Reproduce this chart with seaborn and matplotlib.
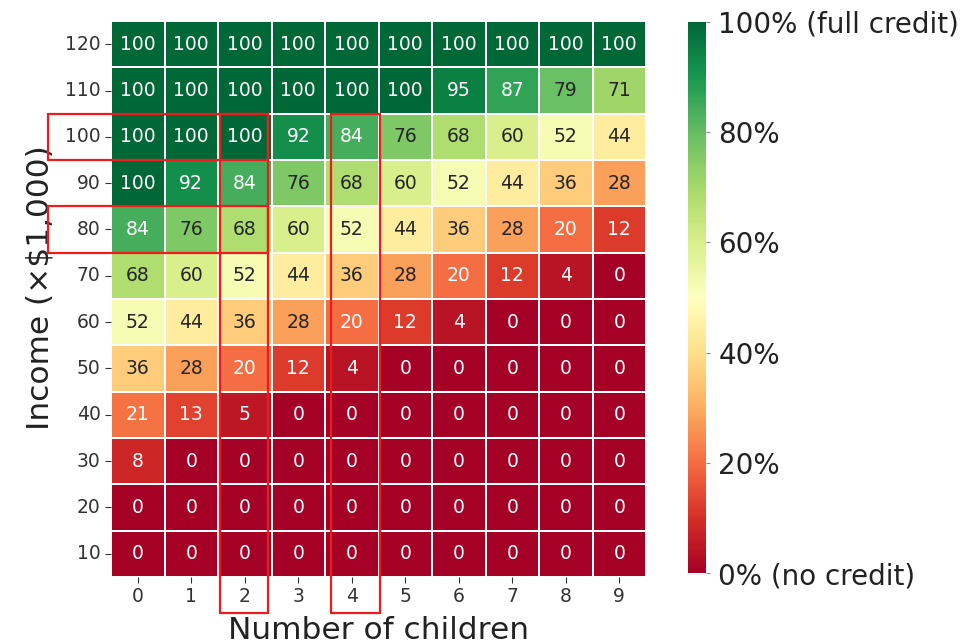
import numpy as np
import pandas as pd
import matplotlib
matplotlib.use("Agg")
import matplotlib.pyplot as plt
from matplotlib.patches import Rectangle
import seaborn as sns

# Credit percentage by household income (rows) and number of children (columns)
children = [0, 1, 2, 3, 4, 5, 6, 7, 8, 9]
income = [120, 110, 100, 90, 80, 70, 60, 50, 40, 30, 20, 10]
credit_120 = [100, 100, 100, 100, 100, 100, 100, 100, 100, 100]
credit_110 = [100, 100, 100, 100, 100, 100, 95, 87, 79, 71]
credit_100 = [100, 100, 100, 92, 84, 76, 68, 60, 52, 44]
credit_90 = [100, 92, 84, 76, 68, 60, 52, 44, 36, 28]
credit_80 = [84, 76, 68, 60, 52, 44, 36, 28, 20, 12]
credit_70 = [68, 60, 52, 44, 36, 28, 20, 12, 4, 0]
credit_60 = [52, 44, 36, 28, 20, 12, 4, 0, 0, 0]
credit_50 = [36, 28, 20, 12, 4, 0, 0, 0, 0, 0]
credit_40 = [21, 13, 5, 0, 0, 0, 0, 0, 0, 0]
credit_30 = [8, 0, 0, 0, 0, 0, 0, 0, 0, 0]
credit_20 = [0, 0, 0, 0, 0, 0, 0, 0, 0, 0]
credit_10 = [0, 0, 0, 0, 0, 0, 0, 0, 0, 0]
cbar_ticks = [0, 20, 40, 60, 80, 100]
cbar_labels = ["0% (no credit)", "20%", "40%", "60%", "80%", "100% (full credit)"]
highlight_rows = [100, 80]
highlight_cols = [2, 4]

table = pd.DataFrame(
    [credit_120, credit_110, credit_100, credit_90, credit_80, credit_70,
     credit_60, credit_50, credit_40, credit_30, credit_20, credit_10],
    index=income, columns=children,
)

plt.rcParams["font.family"] = ["DejaVu Sans"]

W, H = 975, 644
fig = plt.figure(figsize=(W / 100, H / 100), dpi=100)
ax = fig.add_axes([111 / W, (H - 577) / H, 535 / W, 556 / H])
cax = fig.add_axes([688 / W, (H - 573) / H, 18 / W, 551 / H])

sns.heatmap(
    table, ax=ax, cbar_ax=cax, cmap="RdYlGn", vmin=0, vmax=100,
    annot=True, fmt="d", linewidths=1.2, linecolor="white",
    annot_kws={"fontsize": 13.5},
    cbar_kws={"ticks": cbar_ticks},
)

ax.tick_params(axis="both", labelsize=13.5, colors="#333333", length=4)
ax.tick_params(axis="y", labelrotation=0)
ax.tick_params(axis="x", labelrotation=0)
ax.set_xlabel("Number of children", fontsize=22.5, color="#222222")
ax.set_ylabel("Income (×$1,000)", fontsize=22.5, color="#222222")
ax.xaxis.set_label_coords(0.5, -0.070)
ax.yaxis.set_label_coords(-0.105, 0.521)

cax.set_yticklabels(cbar_labels, fontsize=20, color="#222222")
cax.tick_params(length=3, width=0.8, pad=6, colors="#888888", labelcolor="#222222")

# Red outlines around selected income rows and children columns
row_pos = {v: i for i, v in enumerate(income)}
for r in highlight_rows:
    i = row_pos[r]
    ax.add_patch(Rectangle((-1.18, i), 4.11, 1, fill=False, edgecolor="#ee1c1c",
                           linewidth=1.6, clip_on=False, zorder=5))
col_span = {2: (2.04, 2.93), 4: (4.11, 5.03)}
for c in highlight_cols:
    x0, x1 = col_span[c]
    ax.add_patch(Rectangle((x0, 2), x1 - x0, 10.78, fill=False, edgecolor="#ee1c1c",
                           linewidth=1.6, clip_on=False, zorder=5))

fig.savefig("out.png", dpi=100)
